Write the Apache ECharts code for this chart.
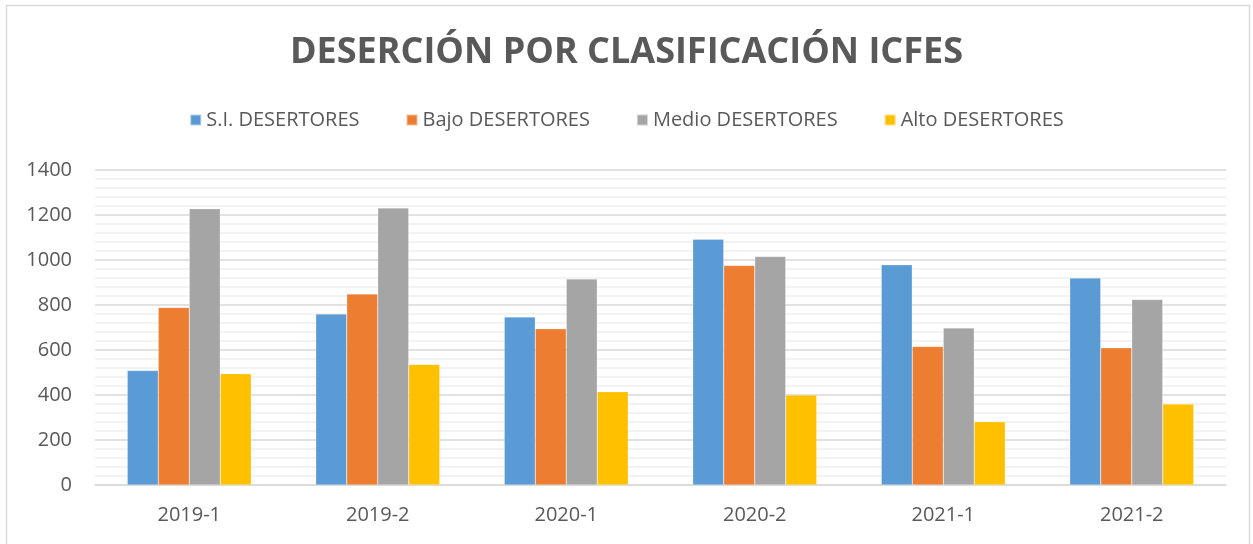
<!DOCTYPE html>
<html>
<head>
<meta charset="utf-8">
<script src="https://cdn.jsdelivr.net/npm/echarts@6/dist/echarts.min.js"></script>
<style>
  html, body { margin: 0; padding: 0; background: #fff; }
  #chart { width: 1253px; height: 544px; }
</style>
</head>
<body>
<div id="chart"></div>
<script>
// periodos
const categories = ['2019-1', '2019-2', '2020-1', '2020-2', '2021-1', '2021-2'];

// desertores por clasificación ICFES
const siDesertores = [509, 760, 747, 1092, 979, 920];
const bajoDesertores = [789, 849, 695, 976, 616, 610];
const medioDesertores = [1228, 1231, 916, 1016, 698, 825];
const altoDesertores = [495, 536, 415, 400, 281, 360];

const seriesNames = ['S.I. DESERTORES', 'Bajo DESERTORES', 'Medio DESERTORES', 'Alto DESERTORES'];
const seriesColors = ['#5B9BD5', '#ED7D31', '#A5A5A5', '#FFC000'];

const chart = echarts.init(document.getElementById('chart'));

const mkBar = (name, data, color) => ({
  name: name,
  type: 'bar',
  data: data,
  barWidth: 31,
  barGap: '0%',
  itemStyle: { color: color, borderColor: 'rgba(255,255,255,0.5)', borderWidth: 0.5 }
});

const option = {
  backgroundColor: '#fff',
  animation: false,
  textStyle: { fontFamily: 'Open Sans' },
  title: {
    text: 'DESERCIÓN POR CLASIFICACIÓN ICFES',
    left: 'center',
    top: 30,
    textStyle: { fontFamily: 'Open Sans', fontWeight: 'bold', fontSize: 36, color: '#595959' }
  },
  legend: {
    top: 105,
    left: 'center',
    itemWidth: 11,
    itemHeight: 11,
    itemGap: 46,
    icon: 'rect',
    textStyle: { fontSize: 20, color: '#595959', fontFamily: 'Open Sans' },
    data: seriesNames
  },
  graphic: [{
    type: 'rect',
    shape: { x: 6.5, y: 5.5, width: 1243, height: 600 },
    style: { fill: 'none', stroke: '#D9D9D9', lineWidth: 1.5 },
    silent: true
  }],
  grid: { left: 95, right: 27, top: 170, bottom: 59 },
  xAxis: {
    type: 'category',
    data: categories,
    axisLine: { lineStyle: { color: '#D9D9D9', width: 1.5 } },
    axisTick: { show: false },
    axisLabel: { fontSize: 20, color: '#595959', margin: 20 }
  },
  yAxis: {
    type: 'value',
    min: 0,
    max: 1400,
    interval: 200,
    axisLine: { show: false },
    axisTick: { show: false },
    axisLabel: { fontSize: 20, color: '#595959', margin: 23, formatter: v => String(v) },
    splitLine: { lineStyle: { color: '#D9D9D9', width: 1.5 } },
    minorTick: { show: false, splitNumber: 5 },
    minorSplitLine: { show: true, lineStyle: { color: '#F0F0F0', width: 1.5 } }
  },
  series: [
    mkBar(seriesNames[0], siDesertores, seriesColors[0]),
    mkBar(seriesNames[1], bajoDesertores, seriesColors[1]),
    mkBar(seriesNames[2], medioDesertores, seriesColors[2]),
    mkBar(seriesNames[3], altoDesertores, seriesColors[3])
  ]
};

chart.setOption(option);
</script>
</body>
</html>
